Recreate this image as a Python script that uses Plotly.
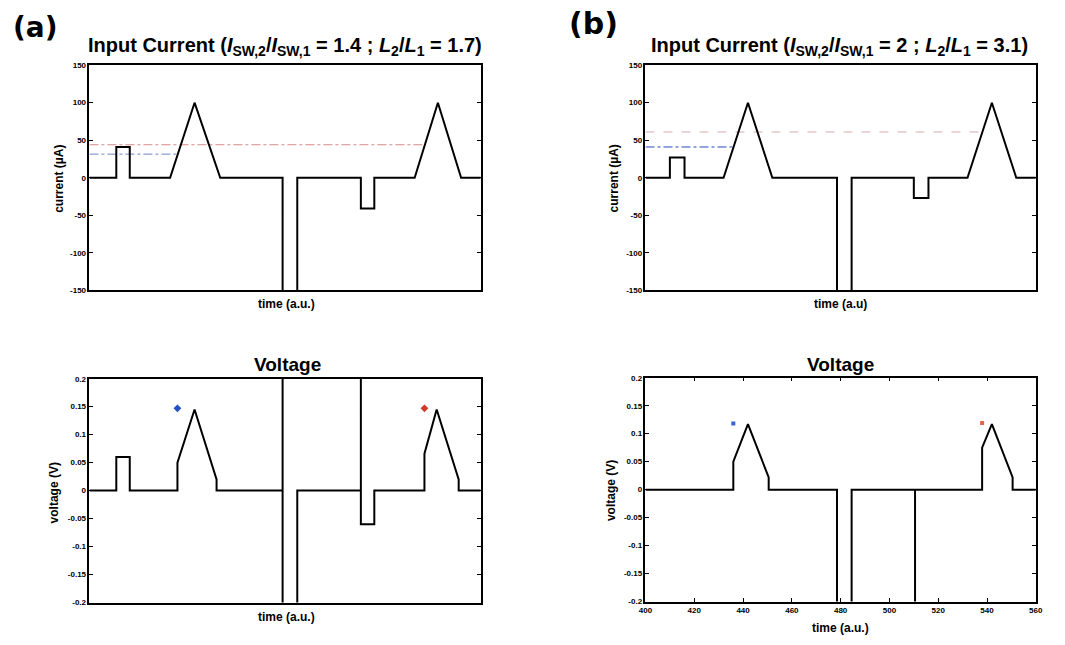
import plotly.graph_objects as go

W, H = 1065, 645

# ---- waveform breakpoints (time in a.u.) ----
# (a) input current, µA
t_cur_a = [400, 411, 411, 416.5, 416.5, 433, 443, 453.5, 479, 479, 485, 485,
           511, 511, 516.5, 516.5, 533, 542.5, 552, 560]
i_cur_a = [0, 0, 41, 41, 0, 0, 100, 0, 0, -300, -300, 0,
           0, -41, -41, 0, 0, 100, 0, 0]
# (a) switching current levels
isw1_a = 31.5
isw2_a = 44
t_isw1_a = [400, 436.2]
t_isw2_a = [400, 537.2]

# (a) voltage, V
t_volt_a = [400, 411, 411, 416.5, 416.5, 436, 436, 443, 452, 452, 479, 479, 479,
            485, 485, 511, 511, 511, 516.5, 516.5, 537, 537, 542, 551, 551, 560]
v_volt_a = [0, 0, 0.06, 0.06, 0, 0, 0.05, 0.145, 0.02, 0, 0, 0.5, -0.5,
            -0.5, 0, 0, 0.5, -0.06, -0.06, 0, 0, 0.066, 0.145, 0.02, 0, 0]
mark1_a = (436, 0.147)
mark2_a = (537, 0.147)

# (b) input current, µA
t_cur_b = [400, 410, 410, 416, 416, 432, 442, 452, 478.5, 478.5, 484.5, 484.5,
           510, 510, 516, 516, 532, 542, 552, 560]
i_cur_b = [0, 0, 27, 27, 0, 0, 100, 0, 0, -300, -300, 0,
           0, -27, -27, 0, 0, 100, 0, 0]
isw1_b = 41
isw2_b = 61
t_isw1_b = [400, 436.5]
t_isw2_b = [400, 538]

# (b) voltage, V
t_volt_b = [400, 436, 436, 442, 450.5, 450.5, 478.5, 478.5, 484.5, 484.5,
            510.5, 510.5, 510.5, 538, 538, 542, 550.5, 550.5, 560]
v_volt_b = [0, 0, 0.05, 0.117, 0.022, 0, 0, -0.5, -0.5, 0,
            0, -0.5, 0, 0, 0.075, 0.117, 0.022, 0, 0]
mark1_b = (436, 0.118)
mark2_b = (538, 0.119)

cur_ticks = [-150, -100, -50, 0, 50, 100, 150]
cur_ticktext = ["-150", "-100", "-50", "0", "50", "100", "150"]
volt_ticks = [-0.2, -0.15, -0.1, -0.05, 0, 0.05, 0.1, 0.15, 0.2]
volt_ticktext = ["-0.2", "-0.15", "-0.1", "-0.05", "0", "0.05", "0.1", "0.15", "0.2"]
time_ticks = [400, 420, 440, 460, 480, 500, 520, 540, 560]

TXT = "Liberation Sans"


def px_x(x):
    return x / W


def px_y(y):
    return 1 - y / H


fig = go.Figure()

# (a) current
fig.add_trace(go.Scatter(x=t_isw2_a, y=[isw2_a, isw2_a], mode="lines",
                         line=dict(color="#d88a8a", width=1, dash="dashdot"),
                         xaxis="x", yaxis="y"))
fig.add_trace(go.Scatter(x=t_isw1_a, y=[isw1_a, isw1_a], mode="lines",
                         line=dict(color="#6f86c8", width=1, dash="dashdot"),
                         xaxis="x", yaxis="y"))
fig.add_trace(go.Scatter(x=t_cur_a, y=i_cur_a, mode="lines",
                         line=dict(color="black", width=2), xaxis="x", yaxis="y"))

# (b) current
fig.add_trace(go.Scatter(x=t_isw2_b, y=[isw2_b, isw2_b], mode="lines",
                         line=dict(color="#d8aaaa", width=1, dash="dash"),
                         xaxis="x2", yaxis="y2"))
fig.add_trace(go.Scatter(x=t_isw1_b, y=[isw1_b, isw1_b], mode="lines",
                         line=dict(color="#2a46c0", width=1, dash="dashdot"),
                         xaxis="x2", yaxis="y2"))
fig.add_trace(go.Scatter(x=t_cur_b, y=i_cur_b, mode="lines",
                         line=dict(color="black", width=2), xaxis="x2", yaxis="y2"))

# (a) voltage
fig.add_trace(go.Scatter(x=t_volt_a, y=v_volt_a, mode="lines",
                         line=dict(color="black", width=2), xaxis="x3", yaxis="y3"))
fig.add_trace(go.Scatter(x=[mark1_a[0]], y=[mark1_a[1]], mode="markers",
                         marker=dict(symbol="diamond", size=6, color="#2450c0"),
                         xaxis="x3", yaxis="y3"))
fig.add_trace(go.Scatter(x=[mark2_a[0]], y=[mark2_a[1]], mode="markers",
                         marker=dict(symbol="diamond", size=6, color="#d03a2a"),
                         xaxis="x3", yaxis="y3"))

# (b) voltage
fig.add_trace(go.Scatter(x=t_volt_b, y=v_volt_b, mode="lines",
                         line=dict(color="black", width=2), xaxis="x4", yaxis="y4"))
fig.add_trace(go.Scatter(x=[mark1_b[0]], y=[mark1_b[1]], mode="markers",
                         marker=dict(symbol="square", size=4, color="#3a64d8"),
                         xaxis="x4", yaxis="y4"))
fig.add_trace(go.Scatter(x=[mark2_b[0]], y=[mark2_b[1]], mode="markers",
                         marker=dict(symbol="square", size=4, color="#e8604a"),
                         xaxis="x4", yaxis="y4"))

tickfont = dict(family=TXT, size=8, color="black", weight="bold")
frame = dict(showline=True, linecolor="black", linewidth=1.5, mirror=True,
             showgrid=False, zeroline=False)


def xaxis(domain, anchor, with_ticks=False):
    d = dict(domain=domain, anchor=anchor, range=[400, 560], **frame)
    if with_ticks:
        d.update(tickmode="array", tickvals=time_ticks, ticks="inside",
                 ticklen=4, tickwidth=1.2, tickcolor="black", mirror="ticks",
                 tickfont=tickfont)
    else:
        d.update(showticklabels=False, ticks="")
    return d


def yaxis(domain, anchor, rng, vals, text):
    return dict(domain=domain, anchor=anchor, range=rng, tickmode="array",
                tickvals=vals, ticktext=text, ticks="inside", ticklen=4,
                tickwidth=1.2, tickcolor="black", tickfont=tickfont,
                **{**frame, "mirror": "ticks"})


xa_dom = [px_x(83.5), px_x(480)]
xb_dom = [px_x(647), px_x(1042.5)]
top_dom = [px_y(290.5), px_y(62)]
bot_a_dom = [px_y(607), px_y(380)]
bot_b_dom = [px_y(606), px_y(379)]

fig.update_layout(
    width=W, height=H, margin=dict(l=0, r=0, t=0, b=0),
    paper_bgcolor="white", plot_bgcolor="white", showlegend=False,
    xaxis=xaxis(xa_dom, "y"),
    yaxis=yaxis(top_dom, "x", [-150, 150], cur_ticks, cur_ticktext),
    xaxis2=xaxis(xb_dom, "y2"),
    yaxis2=yaxis(top_dom, "x2", [-150, 150], cur_ticks, cur_ticktext),
    xaxis3=xaxis(xa_dom, "y3"),
    yaxis3=yaxis(bot_a_dom, "x3", [-0.2, 0.2], volt_ticks, volt_ticktext),
    xaxis4=xaxis(xb_dom, "y4", with_ticks=True),
    yaxis4=yaxis(bot_b_dom, "x4", [-0.2, 0.2], volt_ticks, volt_ticktext),
)

annotations = []


def label(text, x, y, size, angle=0, family=TXT):
    annotations.append(dict(text=text, x=px_x(x), y=px_y(y), xref="paper",
                            yref="paper", showarrow=False, textangle=angle,
                            xanchor="center", yanchor="middle",
                            font=dict(family=family, size=size, color="black",
                                      weight="bold")))


title_a = ("Input Current (<i>I</i><sub>SW,2</sub>/<i>I</i><sub>SW,1</sub> = 1.4 ; "
           "<i>L</i><sub>2</sub>/<i>L</i><sub>1</sub> = 1.7)")
title_b = ("Input Current (<i>I</i><sub>SW,2</sub>/<i>I</i><sub>SW,1</sub> = 2 ; "
           "<i>L</i><sub>2</sub>/<i>L</i><sub>1</sub> = 3.1)")

label("(a)", 29, 24, 28, family="DejaVu Sans")
label("(b)", 594, 20, 30, family="DejaVu Sans")
label(title_a, 282, 43, 20)
label(title_b, 844, 43, 20)
label("Voltage", 284, 366, 19)
label("Voltage", 845, 366, 19)

label("current (µA)", 52, 177, 12, angle=-90)
label("current (µA)", 615, 177, 12, angle=-90)
label("voltage (V)", 48, 496, 12, angle=-90)
label("voltage (V)", 612, 493, 12, angle=-90)
label("time (a.u.)", 283, 304, 12)
label("time (a.u)", 845, 304, 12)
label("time (a.u.)", 283, 622, 12)
label("time (a.u.)", 845, 633, 12)

fig.update_layout(annotations=annotations)

fig.write_html("out.html")
